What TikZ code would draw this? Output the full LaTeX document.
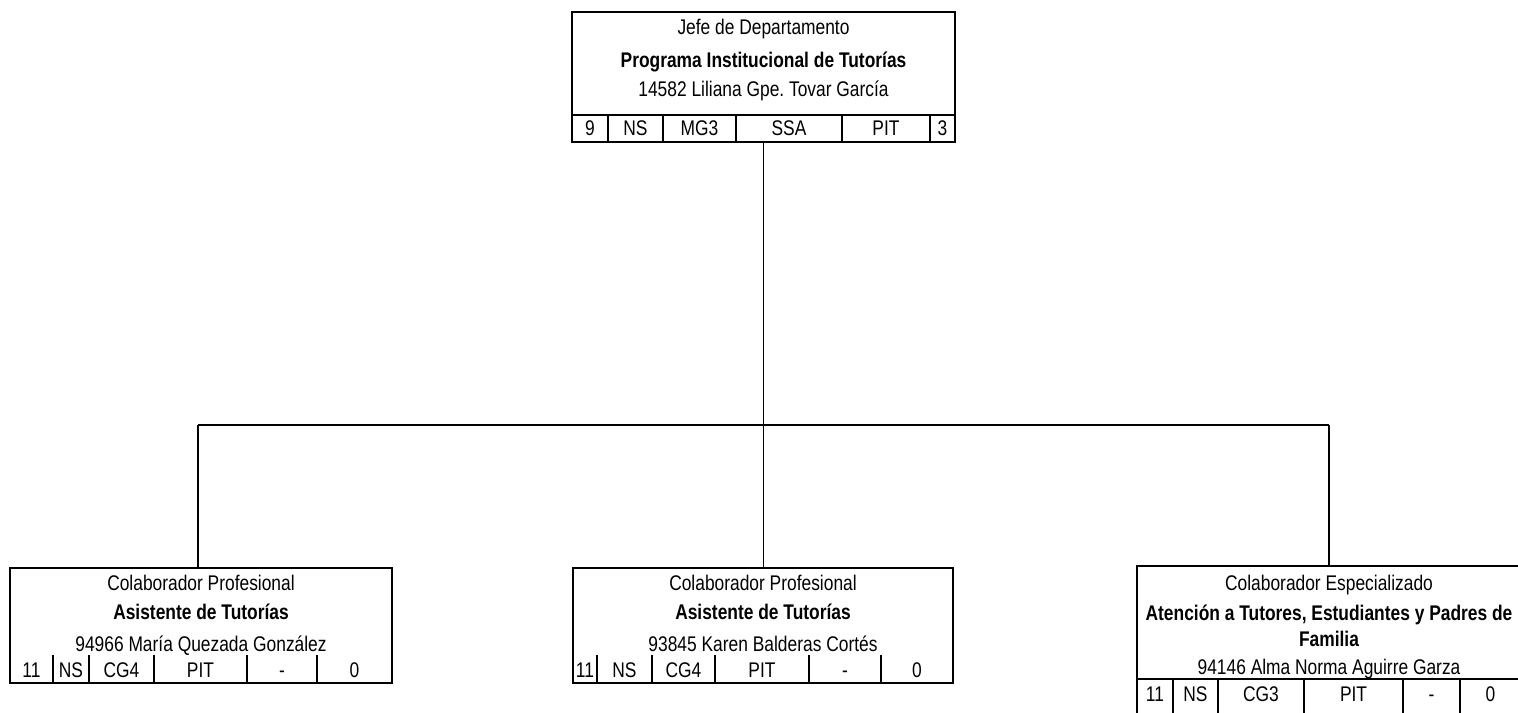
\documentclass[tikz,border=0pt]{standalone}
\usepackage{fontspec}
\setmainfont{Liberation Sans}[FakeStretch=0.82]
\newcommand\orgbox[5]{%
  \pgfmathsetmacro\bw{(#4-#2)*0.5}%
  \pgfmathsetmacro\bh{(#5-#3)*0.5}%
  \node[boxline, minimum width=\bw pt, minimum height=\bh pt, anchor=north west] (#1) at (#2,#3) {};}
\begin{document}
\frenchspacing
\begin{tikzpicture}[x=0.5pt,y=-0.5pt,
  font=\fontsize{10.6pt}{12pt}\selectfont,
  boxline/.style={draw, line width=1.2pt, inner sep=0pt, outer sep=0pt},
  cellline/.style={line width=1pt},
  conn/.style={line width=0.8pt},
  txt/.style={anchor=base, inner sep=0pt},
  btxt/.style={txt, font=\fontsize{10.6pt}{12pt}\selectfont\bfseries}]
\useasboundingbox (0,0) rectangle (1518,712);
\clip (0,0) rectangle (1518,712);

% ---------- top box ----------
\orgbox{top}{572}{12}{955}{142}
\draw[cellline] (572,115) -- (955,115);
\node[txt]  (top-t1) at (763.5,34) {Jefe de Departamento};
\node[btxt] (top-t2) at (763.5,67) {Programa Institucional de Tutorías};
\node[txt]  (top-t3) at (763.5,96) {14582 Liliana Gpe. Tovar García};
\foreach \a/\b/\t [count=\i] in {572/608/9, 608/663/NS, 663/736/MG3, 736/842/SSA, 842/930/PIT, 930/955/3}{
  \draw[cellline] (\b,115) -- (\b,142);
  \node[txt] (top-c\i) at ({(\a+\b)/2},135.6) {\t};
}

% ---------- left box ----------
\orgbox{left}{10}{568}{392}{683}
\node[txt]  (left-t1) at (201,590) {Colaborador Profesional};
\node[btxt] (left-t2) at (201,619) {Asistente de Tutorías};
\node[txt]  (left-t3) at (201,651) {94966 María Quezada González};
\foreach \a/\b/\t [count=\i] in {10/53/11, 53/89/NS, 89/154/CG4, 154/247/PIT, 247/317/-, 317/392/0}{
  \draw[cellline] (\b,655) -- (\b,683);
  \node[txt] (left-c\i) at ({(\a+\b)/2},677) {\t};
}

% ---------- middle box ----------
\orgbox{mid}{573}{568}{953}{683}
\node[txt]  (mid-t1) at (763,590) {Colaborador Profesional};
\node[btxt] (mid-t2) at (763,619) {Asistente de Tutorías};
\node[txt]  (mid-t3) at (763,651) {93845 Karen Balderas Cortés};
\foreach \a/\b/\t [count=\i] in {573/597/11, 597/652/NS, 652/715/CG4, 715/809/PIT, 809/881/-, 881/953/0}{
  \draw[cellline] (\b,655) -- (\b,683);
  \node[txt] (mid-c\i) at ({(\a+\b)/2},677) {\t};
}

% ---------- right box ----------
\orgbox{right}{1137}{566}{1521}{730}
\draw[cellline] (1137,679) -- (1521,679);
\node[txt]  (right-t1)  at (1329,590) {Colaborador Especializado};
\node[btxt] (right-t2a) at (1329,620) {Atención a Tutores, Estudiantes y Padres de};
\node[btxt] (right-t2b) at (1329,646) {Familia};
\node[txt]  (right-t3)  at (1329,674) {94146 Alma Norma Aguirre Garza};
\foreach \a/\b/\t [count=\i] in {1137/1173/11, 1173/1218/NS, 1218/1304/CG3, 1304/1403/PIT, 1403/1460/-, 1460/1521/0}{
  \draw[cellline] (\b,679) -- (\b,730);
  \node[txt] (right-c\i) at ({(\a+\b)/2},701) {\t};
}

% ---------- connectors ----------
\coordinate (hub) at (763.5,425);
\coordinate (hl) at (198,425);
\coordinate (hr) at (1329,425);
\draw[conn] (top.south) -- (hub);
\draw[conn] (hl) -- (hr);
\draw[conn] (hl) -- (hl |- left.north);
\draw[conn] (hub) -- (hub |- mid.north);
\draw[conn] (hr) -- (hr |- right.north);
\end{tikzpicture}
\end{document}
